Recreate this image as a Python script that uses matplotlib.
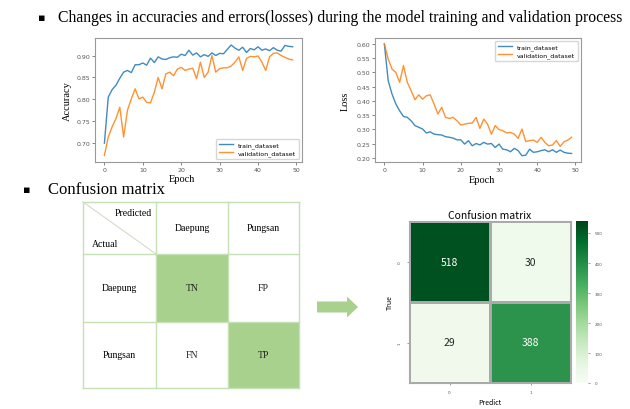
import numpy as np
import matplotlib
matplotlib.use('Agg')
import matplotlib.pyplot as plt
import seaborn as sns
from matplotlib.patches import Rectangle, FancyArrow

# values
epochs = np.arange(50)
train_acc = [0.700, 0.805, 0.822, 0.832, 0.848, 0.862, 0.866, 0.861, 0.879, 0.879,
             0.883, 0.878, 0.894, 0.884, 0.897, 0.892, 0.891, 0.895, 0.897, 0.896,
             0.903, 0.900, 0.912, 0.901, 0.906, 0.897, 0.902, 0.898, 0.906, 0.900,
             0.905, 0.904, 0.914, 0.924, 0.917, 0.912, 0.919, 0.907, 0.916, 0.913,
             0.920, 0.912, 0.915, 0.911, 0.918, 0.912, 0.910, 0.923, 0.921, 0.920]
val_acc = [0.672, 0.714, 0.737, 0.756, 0.782, 0.714, 0.775, 0.801, 0.824, 0.801,
           0.805, 0.793, 0.792, 0.816, 0.850, 0.824, 0.858, 0.862, 0.854, 0.869,
           0.873, 0.866, 0.869, 0.871, 0.847, 0.885, 0.850, 0.862, 0.900, 0.862,
           0.870, 0.872, 0.872, 0.876, 0.885, 0.897, 0.866, 0.893, 0.898, 0.897,
           0.899, 0.885, 0.866, 0.897, 0.905, 0.906, 0.900, 0.896, 0.892, 0.890]
train_loss = [0.600, 0.471, 0.424, 0.389, 0.365, 0.345, 0.342, 0.330, 0.313, 0.307,
              0.301, 0.287, 0.291, 0.283, 0.281, 0.280, 0.274, 0.272, 0.269, 0.263,
              0.263, 0.248, 0.260, 0.242, 0.250, 0.245, 0.254, 0.248, 0.250, 0.236,
              0.248, 0.230, 0.228, 0.221, 0.233, 0.225, 0.207, 0.209, 0.230, 0.219,
              0.221, 0.225, 0.228, 0.221, 0.228, 0.219, 0.227, 0.219, 0.216, 0.215]
val_loss = [0.600, 0.547, 0.512, 0.500, 0.465, 0.524, 0.465, 0.436, 0.404, 0.421,
            0.406, 0.418, 0.421, 0.389, 0.354, 0.377, 0.342, 0.338, 0.342, 0.330,
            0.315, 0.318, 0.321, 0.322, 0.342, 0.303, 0.336, 0.318, 0.283, 0.313,
            0.299, 0.295, 0.287, 0.289, 0.283, 0.268, 0.301, 0.257, 0.260, 0.262,
            0.254, 0.272, 0.254, 0.242, 0.245, 0.260, 0.240, 0.256, 0.262, 0.272]
classes = ['Daepung', 'Pungsan']
outcome_names = [['TN', 'FP'], ['FN', 'TP']]
cm = np.array([[518, 30], [29, 388]])
cm_ticks = ['0', '1']

W, H = 630, 410
serif = 'Liberation Serif'
light_green = '#a9d18e'
line_green = '#c5e0b4'

fig = plt.figure(figsize=(6.3, 4.1), dpi=100)


def px_axes(x0, y0, x1, y1):
    return fig.add_axes([x0 / W, 1 - y1 / H, (x1 - x0) / W, (y1 - y0) / H])


# overlay for headings, the table diagram and the arrow
ov = px_axes(0, 0, W, H)
ov.set_xlim(0, W)
ov.set_ylim(H, 0)
ov.axis('off')

ov.text(42, 18, '\u25aa', family='DejaVu Sans', fontsize=8, ha='center', va='center')
ov.text(58, 18, 'Changes in accuracies and errors(losses) during the model training and validation process',
        family=serif, fontsize=11.3, va='center')
ov.text(27, 190, '\u25aa', family='DejaVu Sans', fontsize=8, ha='center', va='center')
ov.text(48, 190, 'Confusion matrix', family=serif, fontsize=12, va='center')


def curve_plot(ax, train, val, ylabel, loc, ylim, yticks):
    ax.plot(epochs, train, color='#1f77b4', lw=1, alpha=0.85, label='train_dataset')
    ax.plot(epochs, val, color='#ff7f0e', lw=1, alpha=0.85, label='validation_dataset')
    ax.set_ylim(*ylim)
    ax.set_yticks(yticks)
    ax.set_yticklabels(['%.2f' % t for t in yticks])
    ax.set_xlabel('Epoch', family=serif, fontsize=7.5)
    ax.set_ylabel(ylabel, family=serif, fontsize=7.5)
    ax.tick_params(labelsize=4.5, length=2, width=0.5, pad=1.5, colors='#555555')
    for s in ax.spines.values():
        s.set_color('#999999')
        s.set_linewidth(0.8)
    ax.legend(loc=loc, fontsize=4.5, handlelength=2.2, borderpad=0.5, labelspacing=0.3)


acc_ax = px_axes(95, 39, 302, 163)
curve_plot(acc_ax, train_acc, val_acc, 'Accuracy', 'lower right', (0.657, 0.940),
           [0.70, 0.75, 0.80, 0.85, 0.90])
acc_ax.xaxis.set_label_coords(0.42, -0.137)
acc_ax.xaxis.label.set_va('center')
acc_ax.yaxis.set_label_coords(-0.135, 0.5)
acc_ax.yaxis.label.set_va('center')

loss_ax = px_axes(375, 39, 581, 163)
curve_plot(loss_ax, train_loss, val_loss, 'Loss', 'upper right', (0.185, 0.621),
           [0.20, 0.25, 0.30, 0.35, 0.40, 0.45, 0.50, 0.55, 0.60])
loss_ax.xaxis.set_label_coords(0.52, -0.145)
loss_ax.xaxis.label.set_va('center')
loss_ax.yaxis.set_label_coords(-0.146, 0.5)
loss_ax.yaxis.label.set_va('center')

# confusion matrix explanation table
xe = [83, 156, 228, 299]
ye = [203, 255, 323, 389]
for i in range(2):
    for j in range(2):
        x0, x1 = xe[j + 1], xe[j + 2]
        y0, y1 = ye[i + 1], ye[i + 2]
        if i == j:
            ov.add_patch(Rectangle((x0, y0), x1 - x0, y1 - y0, facecolor=light_green, lw=0))
        ov.text((x0 + x1) / 2, (y0 + y1) / 2, outcome_names[i][j], family=serif,
                fontsize=7, ha='center', va='center', color='#222222')
for x in xe:
    ov.plot([x, x], [ye[0], ye[-1]], color=line_green, lw=1)
for y in ye:
    ov.plot([xe[0], xe[-1]], [y, y], color=line_green, lw=1)
ov.plot([xe[0], xe[1]], [ye[0], ye[1]], color='#d3dccb', lw=0.8)
ov.text(133, 214, 'Predicted', family=serif, fontsize=7, ha='center', va='center')
ov.text(105, 245, 'Actual', family=serif, fontsize=7, ha='center', va='center')
for k, name in enumerate(classes):
    ov.text((xe[k + 1] + xe[k + 2]) / 2, (ye[0] + ye[1]) / 2, name, family=serif,
            fontsize=7, ha='center', va='center')
    ov.text((xe[0] + xe[1]) / 2, (ye[k + 1] + ye[k + 2]) / 2, name, family=serif,
            fontsize=7, ha='center', va='center')

ov.add_patch(FancyArrow(317, 308, 41, 0, width=11, head_width=21, head_length=11,
                        length_includes_head=True, color=light_green, lw=0))

# heatmap
hm = px_axes(409, 222, 571, 384)
cax = px_axes(576, 222, 588, 384)
sns.heatmap(cm, annot=True, fmt='d', cmap='Greens', vmin=0, vmax=540, ax=hm, cbar_ax=cax,
            linewidths=1, linecolor='#aaaaaa', xticklabels=cm_ticks, yticklabels=cm_ticks,
            annot_kws={'fontsize': 7.5, 'family': 'Noto Sans CJK KR'})
for s in hm.spines.values():
    s.set_visible(True)
    s.set_color('#aaaaaa')
hm.set_title('Confusion matrix', family='Noto Sans CJK KR', fontsize=7.5, pad=2)
hm.set_xlabel('Predict', family='Noto Sans CJK KR', fontsize=5, labelpad=3)
hm.set_ylabel('True', family='Noto Sans CJK KR', fontsize=5, labelpad=3)
hm.tick_params(labelsize=3, length=1.5, width=0.4, colors='#555555')
cax.tick_params(labelsize=3, length=1.5, width=0.4, colors='#555555')
hm.collections[0].colorbar.outline.set_edgecolor('#aaaaaa')

fig.savefig('out.png', dpi=100)
